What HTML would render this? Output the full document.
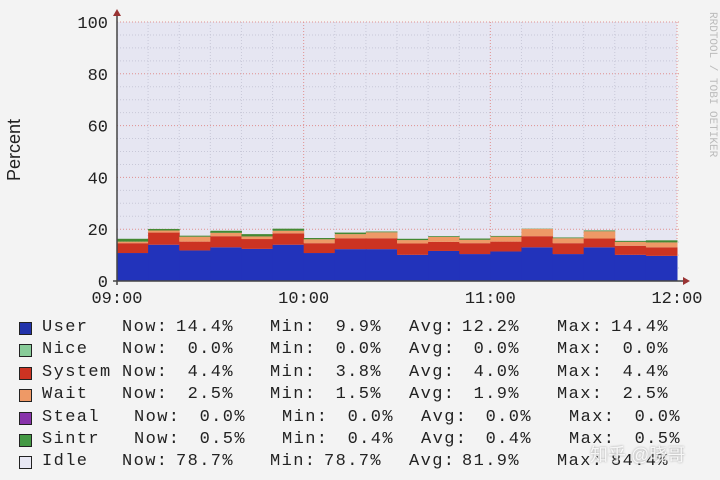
<!DOCTYPE html>
<html><head><meta charset="utf-8">
<style>
body{margin:0;width:720px;height:480px;background:#f3f3f3;overflow:hidden;position:relative;font-family:"Liberation Mono",monospace;color:#222}
.t{position:absolute;font-size:17px;letter-spacing:1.4px;white-space:pre;line-height:20px}
.r{text-align:right}
.sw{position:absolute;width:11px;height:11px;border:1.5px solid #222}
</style></head><body>
<svg id="chart" width="720" height="310" style="position:absolute;left:0;top:0">
<rect x="117" y="22" width="560" height="259" fill="#e6e6f2"/>
<g id="grid"></g><g id="bars"></g><g id="axes"></g>
<text transform="translate(20,150) rotate(-90)" text-anchor="middle" font-family="Liberation Sans,sans-serif" font-size="18" fill="#222">Percent</text>
<text transform="translate(710,12) rotate(90)" font-family="Liberation Mono,monospace" font-size="11" fill="#bbb">RRDTOOL / TOBI OETIKER</text>
</svg>
<div id="legend"></div>
<div style="position:absolute;left:590px;top:441px;font-family:'Liberation Sans','Noto Sans CJK SC',sans-serif;font-size:18px;color:rgba(255,255,255,0.85);text-shadow:0 0 2px #999">知乎 @晓哥</div>
<script>
const users=[10.8,14.0,11.8,13.0,12.4,14.0,10.8,12.3,12.3,10.1,11.6,10.4,11.4,13.0,10.4,13.0,10.1,9.7];
const systems=[3.8,4.7,3.4,4.3,3.8,4.4,3.8,4.2,4.2,4.4,3.5,4.2,3.8,4.3,4.2,3.4,3.5,3.3];
const waits=[0.6,0.8,1.9,1.3,1.0,1.0,1.5,1.6,2.3,1.3,1.9,1.3,1.9,2.8,1.9,2.8,1.5,1.9];
const sintrs=[1.1,0.6,0.4,0.8,0.9,0.8,0.5,0.6,0.3,0.5,0.3,0.5,0.3,0.1,0.3,0.3,0.4,0.8];
const yTicks=[0,20,40,60,80,100];
const xTicks=["09:00","10:00","11:00","12:00"];
const NS="http://www.w3.org/2000/svg";
const X0=117,X1=677,Y0=281,Y1=22;
const y=v=>Y0-(v/100)*(Y0-Y1);
const x=i=>X0+(i/users.length)*(X1-X0);
function mk(t,a,p){const e=document.createElementNS(NS,t);for(const k in a)e.setAttribute(k,a[k]);p.appendChild(e);return e;}
const grid=document.getElementById('grid'),bars=document.getElementById('bars'),axes=document.getElementById('axes');
for(let v=0;v<=100;v+=5){const maj=v%20===0;const l=mk('line',{x1:X0,x2:X1+4,y1:y(v),y2:y(v),stroke:maj?'#e09090':'#c8c8d8','stroke-dasharray':'1,2','stroke-width':1},grid);

}
for(let i=0;i<=18;i++){const maj=i%6===0;const l=mk('line',{x1:x(i),x2:x(i),y1:Y1,y2:Y0,stroke:maj?'#e09090':'#c8c8d8','stroke-dasharray':'1,2'},grid);

}
const series=[[users,'#2233bb','user'],[systems,'#cc3322','system'],[waits,'#ee9966','wait'],[sintrs,'#448833','sintr']];
for(let i=0;i<users.length;i++){let acc=0;for(const [arr,c,n] of series){const v=arr[i];const r=mk('rect',{x:x(i),y:y(acc+v),width:x(i+1)-x(i)+0.5,height:y(acc)-y(acc+v),fill:c},bars);

acc+=v;}}
let a=mk('line',{x1:X0,x2:X0,y1:Y0+4,y2:Y1-8,stroke:'#444','stroke-width':1.5},axes);


a=mk('line',{x1:X0-4,x2:X1+8,y1:Y0,y2:Y0,stroke:'#444','stroke-width':1.5},axes);


a=mk('polygon',{points:`${X0-4},${Y1-6} ${X0+4},${Y1-6} ${X0},${Y1-13}`,fill:'#993333'},axes);


a=mk('polygon',{points:`${X1+6},${Y0-4} ${X1+6},${Y0+4} ${X1+13},${Y0}`,fill:'#993333'},axes);


yTicks.forEach(v=>{const t=mk('text',{x:108,y:y(v)+6,'text-anchor':'end','font-family':'Liberation Mono,monospace','font-size':17,fill:'#222'},axes);t.textContent=v;

});
xTicks.forEach((s,i)=>{const t=mk('text',{x:X0+i*(X1-X0)/3,y:303,'text-anchor':'middle','font-family':'Liberation Mono,monospace','font-size':17,fill:'#222'},axes);t.textContent=s;

});
const names=['User','Nice','System','Wait','Steal','Sintr','Idle'];
const cols=['#2233aa','#88cc99','#cc3322','#ee9966','#8833aa','#449944','#e8e8f4'];
const nows=['14.4','0.0','4.4','2.5','0.0','0.5','78.7'];
const mins=['9.9','0.0','3.8','1.5','0.0','0.4','78.7'];
const avgs=['12.2','0.0','4.0','1.9','0.0','0.4','81.9'];
const maxs=['14.4','0.0','4.4','2.5','0.0','0.5','84.4'];
const L=document.getElementById('legend');
function span(txt,left,top,right,name){const s=document.createElement('div');s.className='t'+(right?' r':'');s.textContent=txt;
if(right){s.style.right=(720-left)+'px';}else s.style.left=left+'px';s.style.top=top+'px';

L.appendChild(s);}
names.forEach((n,i)=>{const top=318+i*22.4;const o=(i===4||i===5)?12:0;
const sw=document.createElement('div');sw.className='sw';sw.style.left='19px';sw.style.top=(top+4)+'px';sw.style.background=cols[i];

L.appendChild(sw);
span(n,42,top,false,'legend-label');
span('Now:',122+o,top,false,'now-label');span(nows[i]+'%',234+o,top,true,'now-value');
span('Min:',270+o,top,false,'min-label');span(mins[i]+'%',382+o,top,true,'min-value');
span('Avg:',409+o,top,false,'avg-label');span(avgs[i]+'%',520+o,top,true,'avg-value');
span('Max:',557+o,top,false,'max-label');span(maxs[i]+'%',669+o,top,true,'max-value');});
</script>
</body></html>
